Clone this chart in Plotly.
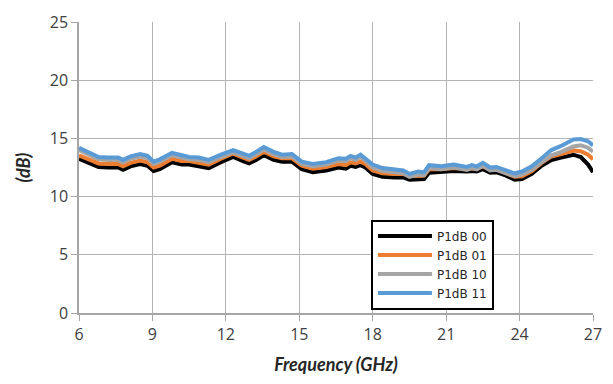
import plotly.graph_objects as go

freq = [6.0, 6.4, 6.8, 7.2, 7.6, 7.8, 8.1, 8.5, 8.8, 9.05, 9.3, 9.8, 10.2, 10.5, 10.9,
        11.3, 11.8, 12.3, 12.7, 12.95, 13.2, 13.55, 13.95, 14.3, 14.7, 15.1, 15.55, 16.1,
        16.6, 16.9, 17.1, 17.3, 17.5, 17.7, 18.0, 18.4, 18.9, 19.25, 19.5, 19.85, 20.1,
        20.3, 20.8, 21.3, 21.85, 22.05, 22.25, 22.5, 22.8, 23.05, 23.45, 23.8, 24.1, 24.5,
        24.9, 25.3, 25.7, 26.2, 26.5, 26.8, 27.0]

p00 = [13.25, 12.9, 12.55, 12.5, 12.5, 12.3, 12.6, 12.8, 12.65, 12.2, 12.35, 12.95, 12.75,
       12.75, 12.6, 12.45, 12.95, 13.4, 13.05, 12.85, 13.1, 13.55, 13.15, 13.0, 13.0, 12.35,
       12.1, 12.25, 12.5, 12.4, 12.65, 12.55, 12.7, 12.5, 11.95, 11.7, 11.65, 11.65, 11.45,
       11.5, 11.5, 12.05, 12.1, 12.2, 12.15, 12.2, 12.15, 12.35, 12.05, 12.1, 11.8, 11.45,
       11.5, 11.95, 12.65, 13.15, 13.35, 13.6, 13.4, 12.75, 12.1]

p01 = [13.55, 13.2, 12.85, 12.8, 12.8, 12.6, 12.9, 13.1, 12.95, 12.5, 12.65, 13.25, 13.05,
       13.05, 12.9, 12.75, 13.25, 13.7, 13.35, 13.15, 13.4, 13.85, 13.45, 13.3, 13.3, 12.65,
       12.4, 12.55, 12.8, 12.7, 12.95, 12.85, 13.0, 12.8, 12.25, 12.0, 11.95, 11.95, 11.75,
       11.8, 11.8, 12.35, 12.35, 12.45, 12.4, 12.45, 12.4, 12.6, 12.3, 12.35, 12.05, 11.7,
       11.75, 12.2, 12.9, 13.45, 13.65, 13.95, 13.9, 13.6, 13.2]

p10 = [14.0, 13.6, 13.2, 13.15, 13.15, 12.95, 13.25, 13.45, 13.3, 12.8, 13.0, 13.55, 13.35,
       13.2, 13.15, 12.95, 13.4, 13.8, 13.5, 13.3, 13.6, 14.05, 13.65, 13.4, 13.45, 12.8,
       12.6, 12.75, 13.1, 13.05, 13.3, 13.15, 13.4, 13.1, 12.5, 12.2, 12.1, 12.0, 11.7,
       11.9, 11.85, 12.45, 12.35, 12.5, 12.3, 12.45, 12.35, 12.65, 12.25, 12.3, 12.0, 11.75,
       11.9, 12.3, 12.95, 13.55, 13.85, 14.3, 14.4, 14.2, 13.85]

p11 = [14.2, 13.8, 13.4, 13.35, 13.35, 13.15, 13.45, 13.65, 13.5, 13.0, 13.2, 13.75, 13.55,
       13.4, 13.35, 13.15, 13.6, 14.0, 13.7, 13.5, 13.8, 14.25, 13.85, 13.6, 13.65, 13.0,
       12.8, 12.95, 13.3, 13.25, 13.5, 13.35, 13.6, 13.3, 12.75, 12.45, 12.35, 12.25, 11.95,
       12.15, 12.1, 12.7, 12.6, 12.75, 12.55, 12.7, 12.6, 12.9, 12.5, 12.55, 12.25, 12.0,
       12.15, 12.6, 13.3, 14.0, 14.35, 14.9, 14.95, 14.75, 14.4]

names = ["P1dB 00", "P1dB 01", "P1dB 10", "P1dB 11"]
colors = ["#000000", "#ED7D31", "#A5A5A5", "#5B9BD5"]
series = [p00, p01, p10, p11]

x_ticks = [6, 9, 12, 15, 18, 21, 24, 27]
y_ticks = [0, 5, 10, 15, 20, 25]

fig = go.Figure()
for name, col, vals in zip(names, colors, series):
    fig.add_trace(go.Scatter(x=freq, y=vals, mode="lines", name=name,
                             line=dict(color=col, width=4)))

axis_font = dict(family="Open Sans, Lato, sans-serif", size=16, color="#404040")
title_font = dict(family="Lato, Open Sans, sans-serif", size=18, color="#262626")

fig.update_layout(
    width=613, height=384,
    margin=dict(l=79, r=11, t=20, b=71),
    plot_bgcolor="white", paper_bgcolor="white",
    showlegend=True,
    legend=dict(x=0.568, y=0.012, xanchor="left", yanchor="bottom",
                bgcolor="white", bordercolor="black", borderwidth=2,
                font=dict(family="DejaVu Sans, sans-serif", size=12, color="#262626"),
                tracegroupgap=0, itemwidth=54),
)
fig.update_xaxes(range=[6, 27], tickvals=x_ticks, ticktext=[str(t) for t in x_ticks],
                 showgrid=True, gridcolor="#B4B4B4", gridwidth=1.2,
                 showline=True, linecolor="#A6A6A6", linewidth=1.5,
                 ticks="outside", ticklen=6, tickcolor="#A6A6A6",
                 tickfont=axis_font, zeroline=False,
                 title=dict(text="<b><i>Frequency (GHz)</i></b>", font=title_font, standoff=14))
fig.update_yaxes(range=[0, 25], tickvals=y_ticks, ticktext=[str(t) for t in y_ticks],
                 showgrid=True, gridcolor="#B4B4B4", gridwidth=1.2,
                 showline=True, linecolor="#A6A6A6", linewidth=1.5,
                 ticks="outside", ticklen=6, tickcolor="#A6A6A6",
                 tickfont=axis_font, zeroline=False,
                 title=dict(text="<b><i>(dB)</i></b>", font=title_font, standoff=14))

fig.write_html("out.html")
